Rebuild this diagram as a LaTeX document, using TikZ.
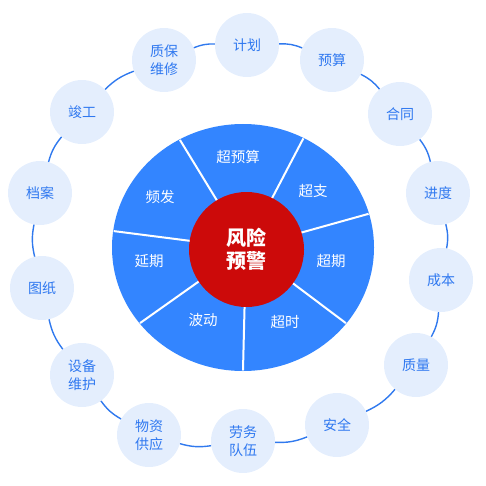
\documentclass[tikz,border=0pt]{standalone}
\usepackage{fontspec}
\setmainfont{Noto Sans CJK SC}
\usetikzlibrary{calc}
\definecolor{ringblue}{HTML}{3385FF}
\definecolor{riskred}{HTML}{CC0A0A}
\definecolor{palefill}{HTML}{E4EEFD}
\definecolor{labelblue}{HTML}{2F78F0}
\definecolor{linkblue}{HTML}{3079EE}
\tikzset{
  stage/.style={circle, fill=palefill, minimum size=64pt, inner sep=0pt,
    text=labelblue, align=center, font=\fontsize{14}{17.5}\selectfont},
  link/.style={draw=linkblue, line width=1.4pt},
  seglabel/.style={text=white, font=\fontsize{14.5}{17}\selectfont},
  divider/.style={draw=white, line width=2pt}
}
\begin{document}
\begin{tikzpicture}[x=1pt,y=-1pt]
\useasboundingbox (0,0) rectangle (486,486);
% outer stages
\node[stage] (jihua) at (247,45) {计划};
\node[stage] (yusuan) at (332,60) {预算};
\node[stage] (hetong) at (400,114) {合同};
\node[stage] (jindu) at (438,193) {进度};
\node[stage] (chengben) at (441,280) {成本};
\node[stage] (zhiliang) at (416,365) {质量};
\node[stage] (anquan) at (337,425) {安全};
\node[stage] (laowu) at (243,441) {劳务\\队伍};
\node[stage] (wuzi) at (149,435) {物资\\供应};
\node[stage] (shebei) at (82,375) {设备\\维护};
\node[stage] (tuzhi) at (42,288) {图纸};
\node[stage] (dangan) at (40,193) {档案};
\node[stage] (jungong) at (82,112) {竣工};
\node[stage] (zhibao) at (164,60) {质保\\维修};
\foreach \a/\b in {jihua/yusuan, yusuan/hetong, hetong/jindu, jindu/chengben,
  chengben/zhiliang, zhiliang/anquan, anquan/laowu, laowu/wuzi, wuzi/shebei,
  shebei/tuzhi, tuzhi/dangan, dangan/jungong, jungong/zhibao, zhibao/jihua}
  \draw[link] (\a) to[bend left=12] (\b);
% blue ring
\coordinate (ringc) at (243,247.5);
\coordinate (hub) at (246,248);
\fill[ringblue] (ringc) ellipse [x radius=131pt, y radius=123.5pt];
\begin{scope}
  \clip (ringc) ellipse [x radius=130.5pt, y radius=123pt];
  \coordinate (d1) at (147,86);
  \coordinate (d2) at (330,87.5);
  \coordinate (d3) at (429,197);
  \coordinate (d4) at (391.5,357.5);
  \coordinate (d5) at (241.5,431);
  \coordinate (d6) at (91.5,357.5);
  \coordinate (d7) at (46.5,222.5);
  \foreach \d in {d1,d2,d3,d4,d5,d6,d7}
    \draw[divider] (hub) -- (\d);
\end{scope}
\node[circle, fill=riskred, minimum size=115pt, inner sep=0pt, text=white,
  align=center, font=\fontsize{20}{23}\selectfont\bfseries] (core) at (246.5,249.5) {风险\\预警};
% segment labels
\node[seglabel] (s1) at (238,157) {超预算};
\node[seglabel] (s2) at (313,191) {超支};
\node[seglabel] (s3) at (331,261) {超期};
\node[seglabel] (s4) at (285,322) {超时};
\node[seglabel] (s5) at (203,320) {波动};
\node[seglabel] (s6) at (149,261) {延期};
\node[seglabel] (s7) at (160,197) {频发};
\end{tikzpicture}
\end{document}
